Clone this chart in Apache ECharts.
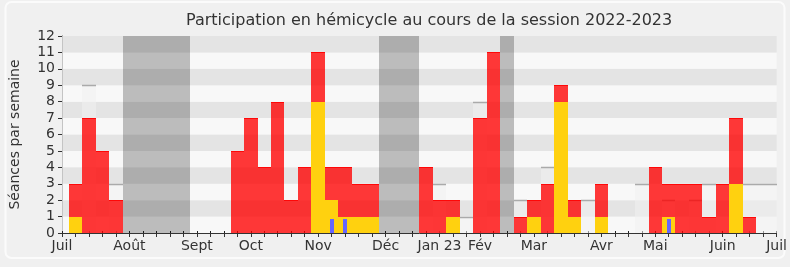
<!DOCTYPE html>
<html>
<head>
<meta charset="utf-8">
<script src="https://cdn.jsdelivr.net/npm/echarts@6/dist/echarts.min.js"></script>
<style>
html,body{margin:0;padding:0;background:#f0f0f0;}
#chart{width:790px;height:267px;}
</style>
</head>
<body>
<div id="chart"></div>
<script>
// Week index 0..53 (week 1 = week of 4 July 2022)
const monthTickIndex = [0, 5, 10, 14, 19, 24, 28, 31, 35, 40, 44, 49, 53];
const monthNames = ['Juil', 'Août', 'Sept', 'Oct', 'Nov', 'Déc', 'Jan 23', 'Fév', 'Mar', 'Avr', 'Mai', 'Juin', 'Juil'];
const yTicks = [0,1,2,3,4,5,6,7,8,9,10,11,12];

// total sessions per week (red)
const totalSessions = [0,3,7,5,2,0,0,0,0,0, 0,0,0,5,7,4,8,2,4,11, 4,4,3,3,0,0,0,4,2,2, 0,7,11,0,1,2,3,9,2,0, 3,0,0,0,4,3,3,3,1,3, 7,1,0,0];
// part of sessions (yellow)
const yellowSessions = [0,1,0,0,0,0,0,0,0,0, 0,0,0,0,0,0,0,0,0,8, 2,1,1,1,0,0,0,0,0,1, 0,0,0,0,0,1,0,8,1,0, 1,0,0,0,0,1,0,0,0,0, 3,0,0,0];
// small blue marks
const blueSessions = [0,0,0,0,0,0,0,0,0,0, 0,0,0,0,0,0,0,0,0,0, 0.85,0.85,0,0,0,0,0,0,0,0, 0,0,0,0,0,0,0,0,0,0, 0,0,0,0,0,0.85,0,0,0,0, 0,0,0,0];
// median of deputies (grey step)
const medianSessions = [null,null,9,null,3,null,null,null,null,null, null,null,null,null,null,null,null,null,null,null, null,null,null,null,null,null,null,null,3,null, 1,8,null,null,2,null,4,null,null,2, null,null,null,3,null,2,null,2,3,null, null,3,3,3];
// vacation weeks (grey columns)
const vacationWeeks = [5,6,7,8,9,24,25,26,33];

const XMIN = 0, XMAX = 53;
const FONT = 'DejaVu Sans';

function toPairs(arr){
  const out = [];
  arr.forEach((v,i)=>{ if (v !== null && v !== 0) out.push([i, v]); });
  return out;
}

function barRender(fill, topStroke, halfWidth, snap) {
  return function(params, api) {
    const i = api.value(0), v = api.value(1);
    const x0 = Math.max(i - halfWidth, XMIN), x1 = Math.min(i + halfWidth, XMAX);
    const p0 = api.coord([x0, v]);
    const p1 = api.coord([x1, 0]);
    let left = p0[0], right = p1[0];
    if (snap) { left = Math.round(left); right = Math.round(right); }
    const top = Math.round(p0[1]), bottom = Math.round(p1[1]);
    const children = [{
      type: 'rect',
      shape: { x: left, y: top, width: right - left, height: bottom - top },
      style: { fill: fill }
    }];
    if (topStroke) {
      children.push({
        type: 'line',
        shape: { x1: left, y1: top + 0.5, x2: right, y2: top + 0.5 },
        style: { stroke: topStroke.color, lineWidth: topStroke.width }
      });
    }
    return { type: 'group', children: children };
  };
}

function vacRender(params, api) {
  const i = api.value(0);
  const p0 = api.coord([i - 0.5, 12]);
  const p1 = api.coord([i + 0.5, 0]);
  const left = Math.round(p0[0]), right = Math.round(p1[0]);
  return {
    type: 'rect',
    shape: { x: left, y: p0[1], width: right - left, height: p1[1] - p0[1] },
    style: { fill: 'rgba(0,0,0,0.24)' }
  };
}

const chart = echarts.init(document.getElementById('chart'), null, {renderer: 'canvas'});
const tickSet = {};
monthTickIndex.forEach((t, k) => tickSet[t] = monthNames[k]);

chart.setOption({
  backgroundColor: '#f0f0f0',
  animation: false,
  title: {
    text: 'Participation en hémicycle au cours de la session 2022-2023',
    left: 181, top: 8,
    textStyle: { fontFamily: FONT, fontSize: 16, fontWeight: 'normal', color: '#333' }
  },
  graphic: [{
    type: 'rect', z: -10, silent: true,
    shape: { x: 5.5, y: 2, width: 779, height: 256, r: 6 },
    style: { fill: 'none', stroke: '#fbfbfb', lineWidth: 2 }
  }],
  grid: { left: 62, right: 10, top: 36, bottom: 34 },
  xAxis: [{
    type: 'value', min: XMIN, max: XMAX, interval: 1,
    axisLine: { show: true, lineStyle: { color: '#333', width: 1 } },
    axisTick: { show: true, length: 4, lineStyle: { color: '#333' } },
    splitLine: { show: false },
    axisLabel: {
      fontFamily: FONT, fontSize: 14, color: '#333', margin: 6,
      formatter: v => tickSet[v] || ''
    }
  }, {
    type: 'value', position: 'top', min: XMIN, max: XMAX, interval: 1,
    axisLine: { show: false },
    axisTick: { show: true, length: 2, lineStyle: { color: '#222', width: 1 } },
    splitLine: { show: false },
    axisLabel: { show: false }
  }],
  yAxis: [{
    type: 'value', min: 0, max: 12, interval: 1,
    name: 'Séances par semaine', nameLocation: 'middle', nameGap: 40,
    nameTextStyle: { fontFamily: FONT, fontSize: 14, color: '#333' },
    axisLine: { show: true, lineStyle: { color: '#333' } },
    axisTick: { show: true, length: 4, lineStyle: { color: '#333' } },
    axisLabel: { fontFamily: FONT, fontSize: 14, color: '#333', margin: 7,
      formatter: v => (yTicks.indexOf(v) >= 0 ? String(v) : '') },
    splitLine: { show: false },
    splitArea: { show: true, areaStyle: { color: ['#f8f8f8', '#e4e4e4'] } }
  }, {
    type: 'value', position: 'right', min: 0, max: 12, interval: 1,
    axisLine: { show: true, lineStyle: { color: '#c4c4c4' } },
    axisTick: { show: false }, axisLabel: { show: false },
    splitLine: { show: false }, splitArea: { show: false }
  }],
  series: [
    { type: 'custom', name: 'vacances', z: 1, renderItem: vacRender,
      data: vacationWeeks.map(w => [w, 12]) },
    { type: 'custom', name: 'médiane', z: 2,
      renderItem: barRender('rgba(240,240,240,0.55)', {color: '#aaaaaa', width: 1.5}, 0.5, true),
      data: toPairs(medianSessions) },
    { type: 'custom', name: 'total', z: 3,
      renderItem: barRender('rgba(255,0,0,0.78)', {color: 'rgba(255,0,0,0.85)', width: 1}, 0.5, true),
      data: toPairs(totalSessions) },
    { type: 'custom', name: 'partie', z: 4,
      renderItem: barRender('#ffd10f', null, 0.5, true),
      data: toPairs(yellowSessions) },
    { type: 'custom', name: 'bleu', z: 5,
      renderItem: barRender('#6666ff', null, 0.16, true),
      data: toPairs(blueSessions) }
  ]
});
</script>
</body>
</html>
